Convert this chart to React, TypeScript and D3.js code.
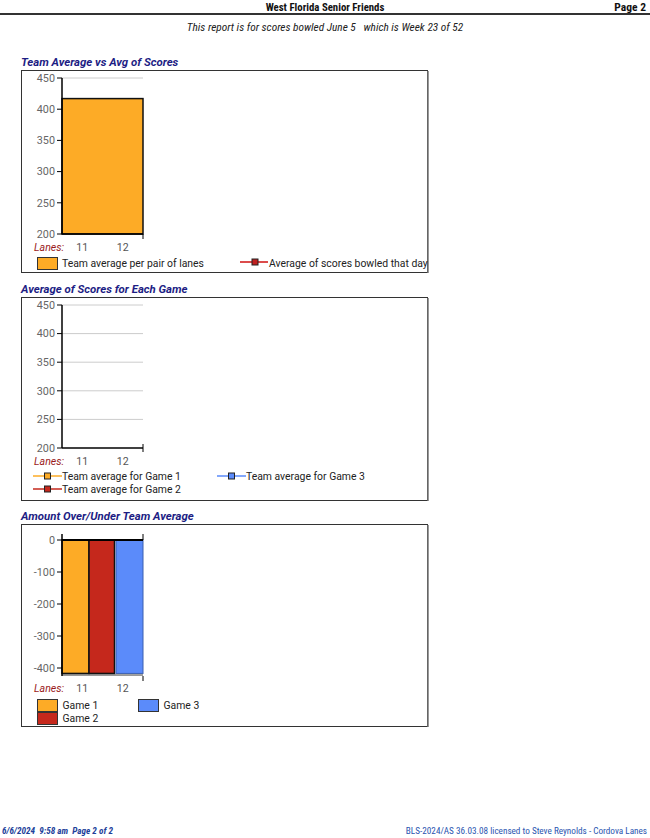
import React from "react";
import * as d3 from "d3";

const lanes = ["11", "12"];
const teamAverage = [417];
const games = ["Game 1", "Game 2", "Game 3"];
const overUnder = [-417, -417, -417];
const scoreTicks = [200, 250, 300, 350, 400, 450];
const diffTicks = [0, -100, -200, -300, -400];
const gameColors = ["#FDAB26", "#C5281C", "#5B8BFA"];
const lineLegend = ["Team average for Game 1", "Team average for Game 2", "Team average for Game 3"];

const FONT = "Roboto, 'Liberation Sans', sans-serif";
const NARROW = "'Liberation Sans Narrow', 'Roboto Condensed', Roboto, sans-serif";
const NAVY = "#1d1d84";
const LEG = 10.4;

function Box({ y, h, title }: { y: number; h: number; title: string }) {
  return (
    <g>
      <text x={21} y={y - 4} fontFamily={FONT} fontSize={11.4} fontWeight="bold" fontStyle="italic" fill={NAVY}>
        {title}
      </text>
      <rect x={21.5} y={y + 0.5} width={406} height={h} fill="#fff" stroke="#333" strokeWidth={1} />
      <line x1={428} y1={y + 1} x2={428} y2={y + h + 1} stroke="#777" strokeWidth={1.5} />
    </g>
  );
}

function YAxis({ scale, ticks, x }: { scale: d3.ScaleLinear<number, number>; ticks: number[]; x: number }) {
  return (
    <g>
      {ticks.map((t) => (
        <g key={t}>
          <line x1={x - 5} x2={x} y1={scale(t)} y2={scale(t)} stroke="#000" strokeWidth={1} />
          <text x={x - 7} y={scale(t)} dy="0.35em" textAnchor="end" fontFamily={FONT} fontSize={10.8} fill="#666">
            {String(t)}
          </text>
        </g>
      ))}
    </g>
  );
}

function LaneLabels({ x, y }: { x: d3.ScaleBand<string>; y: number }) {
  return (
    <g fontFamily={FONT} fontSize={10.6}>
      <text x={34} y={y} fontStyle="italic" fill="#9b1c1c">Lanes:</text>
      {lanes.map((l) => (
        <text key={l} x={(x(l) as number) + x.bandwidth() / 2} y={y} textAnchor="middle" fill="#555">
          {l}
        </text>
      ))}
    </g>
  );
}

export default function App() {
  const laneX = d3.scaleBand<string>().domain(lanes).range([62, 143]).padding(0);

  const y1 = d3.scaleLinear().domain([200, 450]).range([234, 78]);
  const y2 = d3.scaleLinear().domain([200, 450]).range([448, 305]);
  const y3 = d3.scaleLinear().domain([-425, 0]).range([676, 540]);
  const gameX = d3.scaleBand<string>().domain(games).range([62, 143]).padding(0);

  return (
    <svg width={650} height={838} style={{ position: "absolute", left: 0, top: 0 }}>
      <rect width={650} height={838} fill="#fff" />
      {/* Header */}
      <text x={325} y={11} textAnchor="middle" fontFamily={NARROW} fontSize={10.8} fontWeight="bold" fill="#111">
        West Florida Senior Friends
      </text>
      <text x={646} y={11} textAnchor="end" fontFamily={NARROW} fontSize={11.5} fontWeight="bold" fill="#111">
        Page 2
      </text>
      <line x1={0} x2={650} y1={14} y2={14} stroke="#333" strokeWidth={2} />
      <text x={325} y={31} textAnchor="middle" fontFamily={NARROW} fontSize={11.3} fontStyle="italic" fill="#222">
        {"This report is for scores bowled June 5\u00a0\u00a0 which is Week 23 of 52"}
      </text>

      {/* Chart 1 */}
      <Box y={70} h={202} title="Team Average vs Avg of Scores" />
      <line x1={62} x2={143} y1={y1(450)} y2={y1(450)} stroke="#ccc" />
      <rect
        x={laneX(lanes[0]) as number}
        y={y1(teamAverage[0])}
        width={(laneX(lanes[1]) as number) + laneX.bandwidth() - (laneX(lanes[0]) as number)}
        height={y1(200) - y1(teamAverage[0])}
        fill={gameColors[0]}
        stroke="#111"
        strokeWidth={1.5}
      />
      <line x1={62} x2={62} y1={y1(450)} y2={y1(200)} stroke="#000" strokeWidth={1.5} />
      <line x1={62} x2={143} y1={y1(200)} y2={y1(200)} stroke="#000" strokeWidth={1.5} />
      <line x1={143} x2={143} y1={y1(200)} y2={y1(200) + 5} stroke="#000" />
      <YAxis scale={y1} ticks={scoreTicks} x={62} />
      <LaneLabels x={laneX} y={251} />
      <rect x={37.5} y={257.5} width={20} height={12} fill={gameColors[0]} stroke="#333" />
      <text x={62} y={267} fontFamily={FONT} fontSize={LEG} fill="#222">Team average per pair of lanes</text>
      <line x1={240} x2={268} y1={262} y2={262} stroke="#d01010" strokeWidth={1.5} />
      <rect x={252} y={259} width={6} height={6} fill="#c02020" stroke="#222" />
      <text x={269} y={267} fontFamily={FONT} fontSize={LEG} fill="#222">Average of scores bowled that day</text>

      {/* Chart 2 */}
      <Box y={297} h={203} title="Average of Scores for Each Game" />
      {scoreTicks.filter((t) => t > 200).map((t) => (
        <line key={t} x1={62} x2={143} y1={y2(t)} y2={y2(t)} stroke="#ccc" />
      ))}
      <line x1={62} x2={62} y1={y2(450)} y2={y2(200)} stroke="#000" strokeWidth={1.5} />
      <line x1={62} x2={143} y1={y2(200)} y2={y2(200)} stroke="#000" strokeWidth={1.5} />
      <line x1={143} x2={143} y1={y2(200) - 4} y2={y2(200) + 4} stroke="#000" />
      <YAxis scale={y2} ticks={scoreTicks} x={62} />
      <LaneLabels x={laneX} y={465} />
      {lineLegend.map((label, i) => {
        const lx = i < 2 ? 33 : 217;
        const ly = i < 2 ? 476 + i * 13 : 476;
        return (
          <g key={label}>
            <line x1={lx} x2={lx + 29} y1={ly} y2={ly} stroke={gameColors[i]} strokeWidth={1.5} />
            <rect x={lx + 11.5} y={ly - 3} width={6} height={6} fill={gameColors[i]} stroke="#222" />
            <text x={lx + 29} y={ly + 4} fontFamily={FONT} fontSize={LEG} fill="#222">{label}</text>
          </g>
        );
      })}

      {/* Chart 3 */}
      <Box y={524} h={202} title="Amount Over/Under Team Average" />
      <rect x={62} y={y3(-419)} width={81} height={y3(-425) - y3(-419)} fill="#999" />
      {games.map((g, i) => (
        <rect
          key={g}
          x={gameX(g) as number}
          y={y3(0)}
          width={gameX.bandwidth() - (i === 1 ? 1.5 : 0)}
          height={y3(overUnder[i]) - y3(0)}
          fill={gameColors[i]}
          stroke={i === 2 ? "#3a5fb0" : "#111"}
          strokeWidth={i === 2 ? 1 : 1.5}
        />
      ))}
      <line x1={62} x2={62} y1={y3(0) - 6} y2={y3(-425)} stroke="#000" strokeWidth={1.5} />
      <line x1={62} x2={143} y1={y3(0)} y2={y3(0)} stroke="#000" strokeWidth={2} />
      <line x1={143} x2={143} y1={y3(0) - 6} y2={y3(0)} stroke="#000" />
      <line x1={143} x2={143} y1={y3(-425)} y2={y3(-425) + 5} stroke="#000" />
      <YAxis scale={y3} ticks={diffTicks} x={62} />
      <LaneLabels x={laneX} y={692} />
      {games.map((g, i) => {
        const lx = i < 2 ? 37.5 : 138.5;
        const ly = i < 2 ? 699.5 + i * 13 : 699.5;
        return (
          <g key={g}>
            <rect x={lx} y={ly} width={20} height={12} fill={gameColors[i]} stroke="#333" />
            <text x={lx + 25} y={ly + 9.5} fontFamily={FONT} fontSize={LEG} fill="#222">{g}</text>
          </g>
        );
      })}

      {/* Footer */}
      <text x={2} y={834} fontFamily={NARROW} fontSize={9.2} fontStyle="italic" fontWeight="bold" fill="#1d3f9a">
        {"6/6/2024\u00a0\u00a09:58 am\u00a0\u00a0Page 2 of 2"}
      </text>
      <text x={647} y={834} textAnchor="end" fontFamily={NARROW} fontSize={9.2} fill="#2a55b0">
        BLS-2024/AS 36.03.08 licensed to Steve Reynolds - Cordova Lanes
      </text>
    </svg>
  );
}
